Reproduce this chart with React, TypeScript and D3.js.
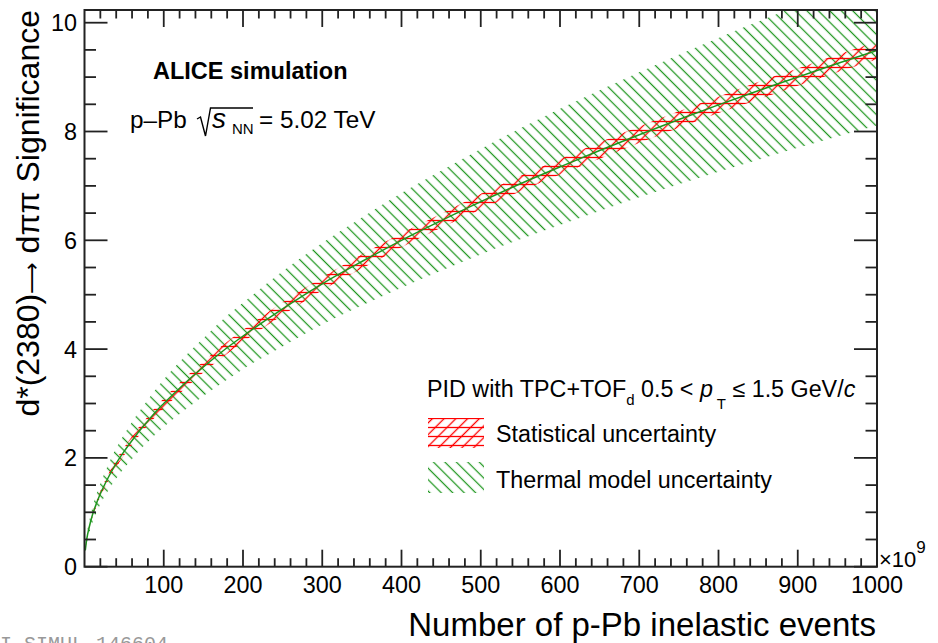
import React from "react";
import * as d3 from "d3";

const W = 938;
const H = 643;

// Number of p-Pb inelastic events (x 10^9)
const nEvents = [1, 3, 6, 10, 15, 20, 30, 40, 50, 60, 70, 80, 90, 100, 125, 150, 175, 200, 250, 300, 350, 400, 450, 500, 550, 600, 650, 700, 750, 800, 850, 900, 950, 1000];
// Expected significance (central)
const significance = [0.30, 0.52, 0.73, 0.95, 1.16, 1.34, 1.64, 1.90, 2.12, 2.32, 2.51, 2.68, 2.85, 3.00, 3.35, 3.67, 3.97, 4.24, 4.74, 5.20, 5.61, 6.00, 6.36, 6.71, 7.04, 7.35, 7.65, 7.94, 8.22, 8.49, 8.75, 9.00, 9.25, 9.49];
// Statistical uncertainty (absolute)
const statErr = [0.01, 0.02, 0.03, 0.04, 0.05, 0.05, 0.06, 0.07, 0.07, 0.08, 0.08, 0.08, 0.09, 0.09, 0.10, 0.10, 0.11, 0.11, 0.12, 0.12, 0.13, 0.13, 0.13, 0.14, 0.14, 0.14, 0.15, 0.15, 0.15, 0.15, 0.16, 0.16, 0.16, 0.16];
// Thermal model uncertainty band
const thermalLow = [0.26, 0.44, 0.62, 0.81, 0.99, 1.15, 1.40, 1.62, 1.81, 1.98, 2.15, 2.29, 2.44, 2.57, 2.86, 3.14, 3.39, 3.63, 4.05, 4.45, 4.80, 5.13, 5.44, 5.74, 6.02, 6.28, 6.54, 6.79, 7.03, 7.26, 7.48, 7.70, 7.91, 8.11];
const thermalHigh = [0.34, 0.60, 0.84, 1.09, 1.33, 1.53, 1.88, 2.18, 2.43, 2.66, 2.87, 3.07, 3.26, 3.44, 3.84, 4.20, 4.55, 4.85, 5.43, 5.95, 6.42, 6.87, 7.28, 7.68, 8.06, 8.42, 8.76, 9.09, 9.41, 9.72, 10.02, 10.31, 10.59, 10.87];

const xTickLabels = [100, 200, 300, 400, 500, 600, 700, 800, 900, 1000];
const yTickLabels = [0, 2, 4, 6, 8, 10];

const FONT = "'Liberation Sans', Arial, Helvetica, sans-serif";
const GREEN = "#1e961e";
const RED = "#ff0000";
const AX = "#222";

export default function App() {
  const L = 84.5, R = 877, T = 10, B = 566.7;
  const x = d3.scaleLinear().domain([0, 1000]).range([L, R]);
  const y = d3.scaleLinear().domain([0, (B - T) / 54.4]).range([B, T]);

  const idx = nEvents.map((_, i) => i);
  const thermArea = d3.area<number>()
    .x((i) => x(nEvents[i]))
    .y0((i) => y(thermalLow[i]))
    .y1((i) => y(thermalHigh[i]))
    .curve(d3.curveMonotoneX);
  const statArea = d3.area<number>()
    .x((i) => x(nEvents[i]))
    .y0((i) => y(significance[i] - statErr[i]))
    .y1((i) => y(significance[i] + statErr[i]))
    .curve(d3.curveMonotoneX);
  const centralLine = d3.line<number>()
    .x((i) => x(nEvents[i]))
    .y((i) => y(significance[i]))
    .curve(d3.curveMonotoneX);

  const xMinor = d3.range(0, 1001, 20).filter((v) => v % 100 !== 0 && v > 0);
  const yMinor = d3.range(0, 10.01, 0.5).filter((v) => Math.abs(v % 2) > 1e-6);

  const xMajLen = 17, xMinLen = 8.5, yMajLen = 23, yMinLen = 11.5;

  return (
    <svg width={W} height={H} style={{ position: "absolute", left: 0, top: 0, background: "#fff" }} fontFamily={FONT}>
      <defs>
        <clipPath id="frame">
          <rect x={L} y={T} width={R - L} height={B - T} />
        </clipPath>
        <pattern id="gHatch" patternUnits="userSpaceOnUse" width={8.1} height={10} patternTransform="rotate(-45)">
          <line x1={4.05} y1={-1} x2={4.05} y2={11} stroke={GREEN} strokeWidth={1.25} />
        </pattern>
        <pattern id="rDiag" patternUnits="userSpaceOnUse" width={8.3} height={10} patternTransform="rotate(45)">
          <line x1={4.15} y1={-1} x2={4.15} y2={11} stroke={RED} strokeWidth={1.3} />
        </pattern>
        <pattern id="rHor" patternUnits="userSpaceOnUse" width={10} height={9}>
          <line x1={-1} y1={4.5} x2={11} y2={4.5} stroke={RED} strokeWidth={1.3} />
        </pattern>
      </defs>

      <rect x={0} y={0} width={W} height={H} fill="#fff" />

      <g clipPath="url(#frame)">
        <path d={thermArea(idx) || ""} fill="url(#gHatch)" />
        <path d={statArea(idx) || ""} fill="url(#rHor)" />
        <path d={statArea(idx) || ""} fill="url(#rDiag)" />
        <path d={centralLine(idx) || ""} fill="none" stroke={GREEN} strokeWidth={1.5} />
      </g>

      {/* frame */}
      <rect x={L} y={T} width={R - L} height={B - T} fill="none" stroke={AX} strokeWidth={2} />

      {/* ticks */}
      <g stroke={AX} strokeWidth={1.8}>
        {xTickLabels.map((v) => (
          <g key={"xm" + v}>
            <line x1={x(v)} x2={x(v)} y1={B} y2={B - xMajLen} />
            <line x1={x(v)} x2={x(v)} y1={T} y2={T + xMajLen} />
          </g>
        ))}
        {xMinor.map((v) => (
          <g key={"xn" + v}>
            <line x1={x(v)} x2={x(v)} y1={B} y2={B - xMinLen} />
            <line x1={x(v)} x2={x(v)} y1={T} y2={T + xMinLen} />
          </g>
        ))}
        {yTickLabels.map((v) => (
          <g key={"ym" + v}>
            <line x1={L} x2={L + yMajLen} y1={y(v)} y2={y(v)} />
            <line x1={R} x2={R - yMajLen} y1={y(v)} y2={y(v)} />
          </g>
        ))}
        {yMinor.map((v) => (
          <g key={"yn" + v}>
            <line x1={L} x2={L + yMinLen} y1={y(v)} y2={y(v)} />
            <line x1={R} x2={R - yMinLen} y1={y(v)} y2={y(v)} />
          </g>
        ))}
      </g>

      {/* tick labels */}
      <g fontSize={23.4} fill="#000">
        {xTickLabels.map((v) => (
          <text key={"xl" + v} x={x(v)} y={593} textAnchor="middle">{v}</text>
        ))}
        {yTickLabels.map((v) => (
          <text key={"yl" + v} x={77} y={y(v) + 8.5} textAnchor="end">{v}</text>
        ))}
      </g>

      {/* x10^9 */}
      <text x={879} y={567} fontSize={22}>×10<tspan dy={-14} fontSize={17}>9</tspan></text>

      {/* axis titles */}
      <text x={876} y={636} fontSize={33} textAnchor="end">Number of p-Pb inelastic events</text>
      <text transform={`translate(39, ${T}) rotate(-90)`} fontSize={32} textAnchor="end">
        d*(2380)<tspan fontSize={22} fontFamily="'DejaVu Sans', sans-serif">⟶</tspan> dππ Significance
      </text>

      {/* ALICE labels */}
      <text x={153} y={79} fontSize={23.5} fontWeight="bold">ALICE simulation</text>
      <text x={130} y={128} fontSize={24.3}>p–Pb</text>
      <path d="M197,119 L200.5,117 L205.5,136 L210.5,108 L253,108" fill="none" stroke="#000" strokeWidth={1.4} />
      <text x={212} y={128} fontSize={28} fontStyle="italic">s</text>
      <text x={232} y={134} fontSize={15}>NN</text>
      <text x={259} y={128} fontSize={24.3}>= 5.02 TeV</text>

      {/* legend */}
      <text x={427} y={397} fontSize={23.3}>
        PID with TPC+TOF<tspan dy={8} fontSize={15}>d</tspan>
        <tspan dy={-8}> 0.5 &lt; </tspan>
        <tspan fontStyle="italic">p</tspan>
        <tspan dy={12} fontSize={15}> T</tspan>
        <tspan dy={-12}> ≤ 1.5 GeV/</tspan>
        <tspan fontStyle="italic">c</tspan>
      </text>
      <rect x={428} y={418} width={56} height={30} fill="url(#rHor)" />
      <rect x={428} y={418} width={56} height={30} fill="url(#rDiag)" />
      <text x={496} y={442} fontSize={23.3}>Statistical uncertainty</text>
      <rect x={428} y={462} width={56} height={31} fill="url(#gHatch)" />
      <text x={496} y={488} fontSize={23.3}>Thermal model uncertainty</text>

      {/* watermark */}
      <text x={-24} y={650} fontSize={20} fill="#999" fontFamily="'Liberation Mono', 'DejaVu Sans Mono', monospace">ALI-SIMUL-146604</text>
    </svg>
  );
}
